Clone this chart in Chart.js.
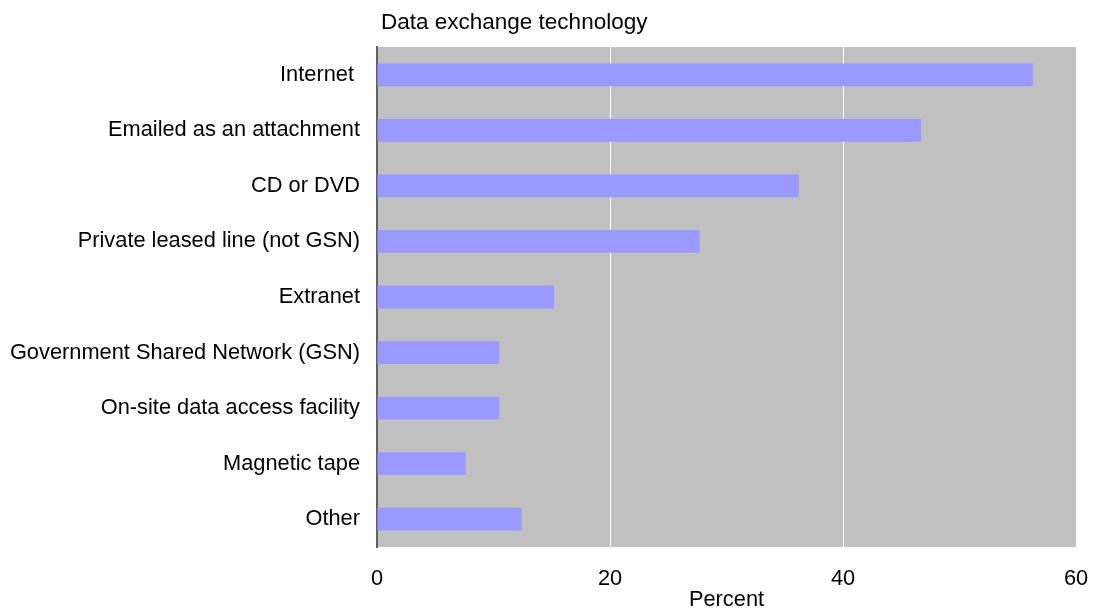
<!DOCTYPE html>
<html>
<head>
<meta charset="utf-8">
<script src="https://cdn.jsdelivr.net/npm/chart.js@4"></script>
<style>
  html, body { margin: 0; padding: 0; background: #fff; }
  #wrap { width: 1094px; height: 613px; }
</style>
</head>
<body>
<div id="wrap"><canvas id="chart" width="1094" height="613"></canvas></div>
<script>
const categories = [
    "Internet ",
    "Emailed as an attachment",
    "CD or DVD",
    "Private leased line (not GSN)",
    "Extranet",
    "Government Shared Network (GSN)",
    "On-site data access facility",
    "Magnetic tape",
    "Other"
];
const percents = [56.3, 46.7, 36.2, 27.7, 15.2, 10.5, 10.5, 7.6, 12.4];
const xTicks = [0, 20, 40, 60];

const FONT = "'Liberation Sans', Arial, sans-serif";

// grey plot area + the title above it
const plotStuff = {
    id: "plotStuff",
    beforeDraw(chart) {
        const { ctx, chartArea: a } = chart;
        ctx.save();
        ctx.fillStyle = "#C0C0C0";
        ctx.fillRect(a.left, a.top, a.right - a.left, a.bottom - a.top);
        ctx.restore();
    },
    afterDraw(chart) {
        const { ctx, chartArea: a } = chart;
        ctx.save();
        ctx.fillStyle = "#000";
        ctx.font = "22.5px " + FONT;
        ctx.textBaseline = "alphabetic";
        ctx.fillText("Data exchange technology", a.left + 4, 29);
        ctx.restore();
    }
};

new Chart(document.getElementById("chart").getContext("2d"), {
    type: "bar",
    data: {
        labels: categories,
        datasets: [{
            data: percents,
            backgroundColor: "#9999FF",
            borderWidth: 0,
            barPercentage: 0.41,
            categoryPercentage: 1
        }]
    },
    options: {
        indexAxis: "y",
        responsive: false,
        animation: false,
        layout: { padding: { top: 47, right: 6, left: 0, bottom: 0 } },
        plugins: { legend: { display: false }, tooltip: { enabled: false } },
        scales: {
            x: {
                min: 0,
                max: 60,
                afterBuildTicks: (s) => { s.ticks = xTicks.map(v => ({ value: v })); },
                afterFit: (s) => { s.height = 66; s.paddingRight = 18; s.paddingLeft = 0; },
                grid: {
                    color: (c) => c.tick && c.tick.value === 0 ? "rgba(0,0,0,0)" : "#FFFFFF",
                    lineWidth: 1,
                    drawTicks: false
                },
                border: { display: false },
                ticks: { color: "#000", font: { family: FONT, size: 21.8 }, padding: 19, maxRotation: 0 },
                title: {
                    display: true,
                    text: "Percent",
                    color: "#000",
                    font: { family: FONT, size: 21.8 },
                    padding: { top: 0, bottom: 0 }
                }
            },
            y: {
                afterFit: (s) => { s.width = 377; },
                grid: { display: false, drawTicks: false },
                border: { display: true, color: "#606060", width: 2 },
                ticks: { color: "#000", font: { family: FONT, size: 21.8 }, padding: 17, autoSkip: false }
            }
        }
    },
    plugins: [plotStuff]
});
</script>
</body>
</html>
